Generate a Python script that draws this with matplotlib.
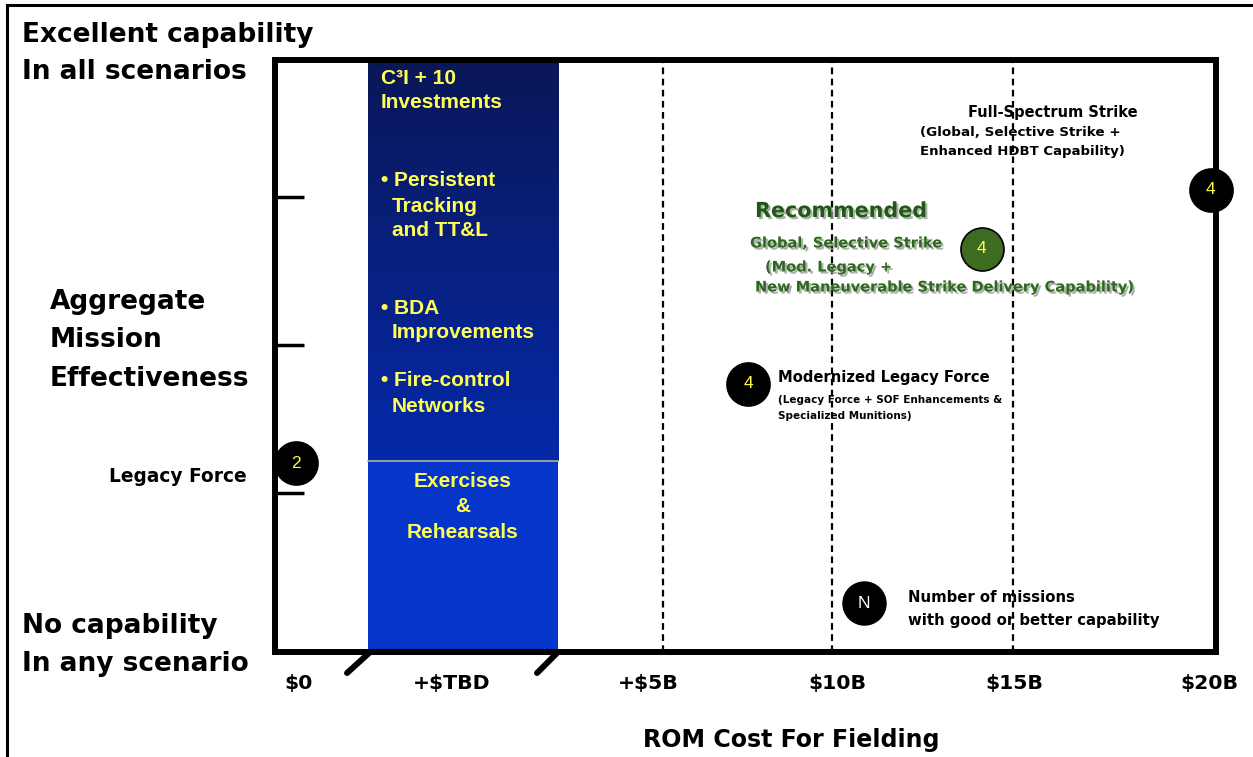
import matplotlib
matplotlib.use("Agg")
import matplotlib.pyplot as plt
import numpy as np
from matplotlib.lines import Line2D
import matplotlib.patheffects as pe

W, H = 1253, 757
FONT = "DejaVu Sans"
BOXFONT = "Liberation Sans"

# ---------------- data ----------------
xtick_pos = [-4.75, -0.52, 4.92, 10.14, 15.03, 20.44]
xtick_labels = ["$0", "+$TBD", "+$5B", "$10B", "$15B", "$20B"]
dashed_x = [5.33, 10.0, 15.0]
ytick_pos = [1, 2, 3]

# option points: (cost position, effectiveness, missions)
opt_x = [-4.81, 7.68, 14.14, 20.47]
opt_y = [1.20, 1.74, 2.65, 3.05]
opt_n = ["2", "4", "4", "4"]
opt_fill = ["black", "black", "#3d6b1f", "black"]

legend_x, legend_y = 10.88, 0.257

box_x0, box_x1 = -2.82, 2.43
box_split = 1.217

XLIM = (-5.39, 20.61)
YLIM = (-0.074, 3.926)

fig = plt.figure(figsize=(W / 100, H / 100), dpi=100)
ax = fig.add_axes([275 / W, 1 - 652 / H, (1216 - 275) / W, (652 - 60) / H])
ax.set_xlim(*XLIM)
ax.set_ylim(*YLIM)

# blue investment box (gradient upper, flat lower)
grad = np.linspace(0, 1, 256)
top_c = np.array([0.04, 0.09, 0.34])
bot_c = np.array([0.02, 0.16, 0.66])
img = (top_c[None, :] + (bot_c - top_c)[None, :] * grad[:, None]).reshape(256, 1, 3)
ax.imshow(img, extent=[box_x0, box_x1, box_split, YLIM[1]], origin="upper",
          aspect="auto", zorder=1)
ax.fill_between([box_x0, box_x1], YLIM[0], box_split, color="#0535c9", zorder=1, lw=0)
ax.plot([box_x0, box_x1], [box_split, box_split], color="#b0b0a0", lw=1.2, zorder=2)
ax.set_xlim(*XLIM)
ax.set_ylim(*YLIM)

# dashed reference lines
for xv in dashed_x:
    ax.axvline(xv, color="black", lw=1.6, ls=(0, (3, 2)), zorder=2)

# spines
for s in ax.spines.values():
    s.set_linewidth(4.3)
    s.set_zorder(5)

ax.set_yticks(ytick_pos)
ax.set_yticklabels([])
ax.tick_params(axis="y", direction="in", length=21, width=2.5, color="black")
ax.set_xticks(xtick_pos)
ax.set_xticklabels(xtick_labels, fontsize=14.7, fontweight="bold", family=FONT)
ax.tick_params(axis="x", length=0, pad=16)

# axis break slashes
for xa, xb in [(-3.40, -2.76), (1.85, 2.43)]:
    ax.plot([xa, xb], [-0.216, YLIM[0]], color="black", lw=4.3,
            solid_capstyle="round", clip_on=False, zorder=6)

# option circles
for xv, yv, n, fc in zip(opt_x, opt_y, opt_n, opt_fill):
    ax.scatter([xv], [yv], s=960, c=fc, edgecolors="black", linewidths=1.2,
               zorder=7, clip_on=False)
    ax.text(xv, yv, n, color="#ffff44", fontsize=12.5, ha="center", va="center",
            family=BOXFONT, zorder=8)

ax.scatter([legend_x], [legend_y], s=960, c="black", zorder=7)
ax.text(legend_x, legend_y, "N", color="white", fontsize=12.5, ha="center",
        va="center", family=BOXFONT, zorder=8)

# ---------------- texts ----------------
def px(x, y):
    return x / W, 1 - y / H

def ftext(x, y, s, **kw):
    fig.text(*px(x, y), s, family=FONT, fontweight="bold", va="center", **kw)

big = 19
for s, y in [("Excellent capability", 35), ("In all scenarios", 72)]:
    ftext(22, y, s, fontsize=big)
for s, y in [("No capability", 626), ("In any scenario", 664)]:
    ftext(22, y, s, fontsize=big)
for s, y in [("Aggregate", 302), ("Mission", 340), ("Effectiveness", 379)]:
    ftext(50, y, s, fontsize=big)
ftext(247, 476, "Legacy Force", fontsize=13.4, ha="right")
ftext(791, 740, "ROM Cost For Fielding", fontsize=17.1, ha="center")

# yellow box texts
yel = "#ffff55"
box_lines = [
    ("C³I + 10", 381, 78), ("Investments", 381, 103),
    ("• Persistent", 381, 181), ("Tracking", 392, 206), ("and TT&L", 392, 231),
    ("• BDA", 381, 308), ("Improvements", 392, 333),
    ("• Fire-control", 381, 381), ("Networks", 392, 406),
]
for s, x, y in box_lines:
    fig.text(*px(x, y), s, family=BOXFONT, fontweight="bold", color=yel,
             fontsize=15, va="center")
for s, y in [("Exercises", 482), ("&", 507), ("Rehearsals", 533)]:
    fig.text(*px(463, y), s, family=BOXFONT, fontweight="bold", color=yel,
             fontsize=15, va="center", ha="center")

# full spectrum
ftext(968, 113, "Full-Spectrum Strike", fontsize=10.5)
ftext(920, 132, "(Global, Selective Strike +", fontsize=9.7)
ftext(920, 151, "Enhanced HDBT Capability)", fontsize=9.5)

# recommended
shadow = [pe.withSimplePatchShadow(offset=(1.5, -1.5), shadow_rgbFace="#999999", alpha=0.8)]
fig.text(*px(755, 211), "Recommended", family=FONT, fontweight="bold", color="#1f5a14",
         fontsize=14.9, va="center", path_effects=shadow)
for s, x, y in [("Global, Selective Strike", 750, 243), ("(Mod. Legacy +", 765, 267),
                ("New Maneuverable Strike Delivery Capability)", 755, 287)]:
    fig.text(*px(x, y), s, family=FONT, fontweight="bold", color="#2b6a1a",
             fontsize=10.5, va="center", path_effects=shadow)

# modernized legacy
ftext(778, 378, "Modernized Legacy Force", fontsize=10.6)
ftext(778, 400, "(Legacy Force + SOF Enhancements &", fontsize=7.5)
ftext(778, 416, "Specialized Munitions)", fontsize=7.5)

# legend
ftext(908, 598, "Number of missions", fontsize=10.7)
ftext(908, 621, "with good or better capability", fontsize=10.7)

# outer frame
fig.add_artist(Line2D([7 / W, 7 / W], [0, 1 - 5 / H], color="black", lw=2.2,
                      transform=fig.transFigure))
fig.add_artist(Line2D([7 / W, 1], [1 - 5 / H, 1 - 5 / H], color="black", lw=2.2,
                      transform=fig.transFigure))

fig.savefig("out.png", dpi=100)
